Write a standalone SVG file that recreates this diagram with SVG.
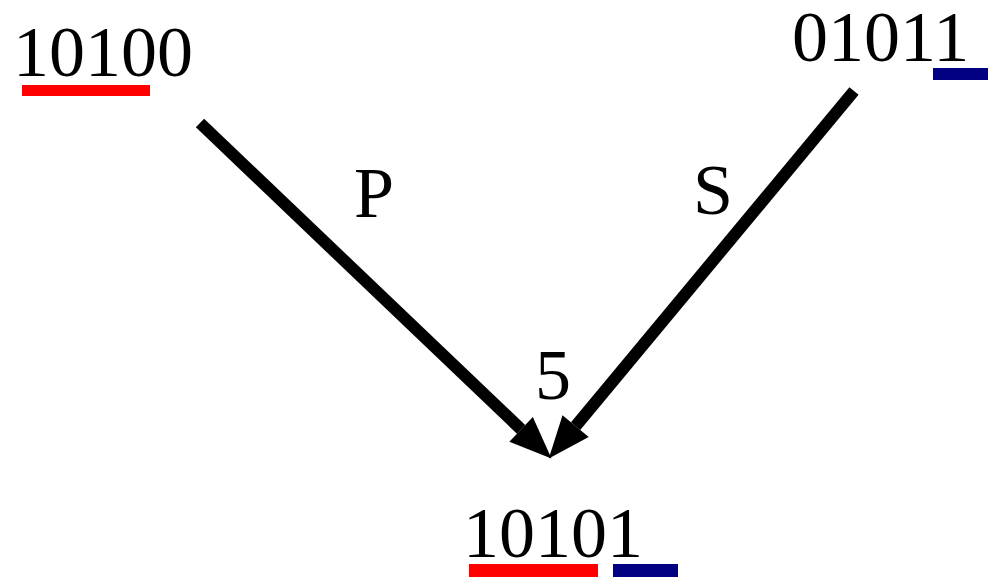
<svg xmlns="http://www.w3.org/2000/svg" width="988" height="577" viewBox="0 0 988 577">
<defs>
<marker id="ah" markerUnits="userSpaceOnUse" markerWidth="50" markerHeight="40" refX="0" refY="0" viewBox="0 -20 50 40" orient="auto" overflow="visible">
<path d="M0,-17 L42,0 L0,17 z" fill="#000"/>
</marker>
</defs>
<rect width="988" height="577" fill="#fff"/>
<g id="connectors" stroke="#000" stroke-width="12" fill="none" marker-end="url(#ah)">
<path d="M200,123 L521.1,429.4"/>
<path d="M854,91 L575.6,426.2"/>
</g>
<g id="node-10100">
<text x="13" y="76" font-family="Liberation Serif" font-size="72" style="font-family:'Liberation Serif','Times New Roman',serif;font-size:72px">10100</text>
<rect x="22" y="85" width="128" height="11" fill="#ff0000"/>
</g>
<g id="node-01011">
<text x="792" y="61" font-family="Liberation Serif" font-size="72" style="font-family:'Liberation Serif','Times New Roman',serif;font-size:72px">01011</text>
<rect x="933" y="68" width="55" height="12" fill="#000080"/>
</g>
<g id="node-10101">
<text x="463" y="557" font-family="Liberation Serif" font-size="72" style="font-family:'Liberation Serif','Times New Roman',serif;font-size:72px">10101</text>
<rect x="469" y="564" width="129" height="13" fill="#ff0000"/>
<rect x="613" y="564" width="65" height="13" fill="#000080"/>
</g>
<g id="labels">
<text x="354" y="217" font-family="Liberation Serif" font-size="72" style="font-family:'Liberation Serif','Times New Roman',serif;font-size:72px">P</text>
<text x="693" y="214" font-family="Liberation Serif" font-size="72" style="font-family:'Liberation Serif','Times New Roman',serif;font-size:72px">S</text>
<text x="535" y="399" font-family="Liberation Serif" font-size="72" style="font-family:'Liberation Serif','Times New Roman',serif;font-size:72px">5</text>
</g>
</svg>
